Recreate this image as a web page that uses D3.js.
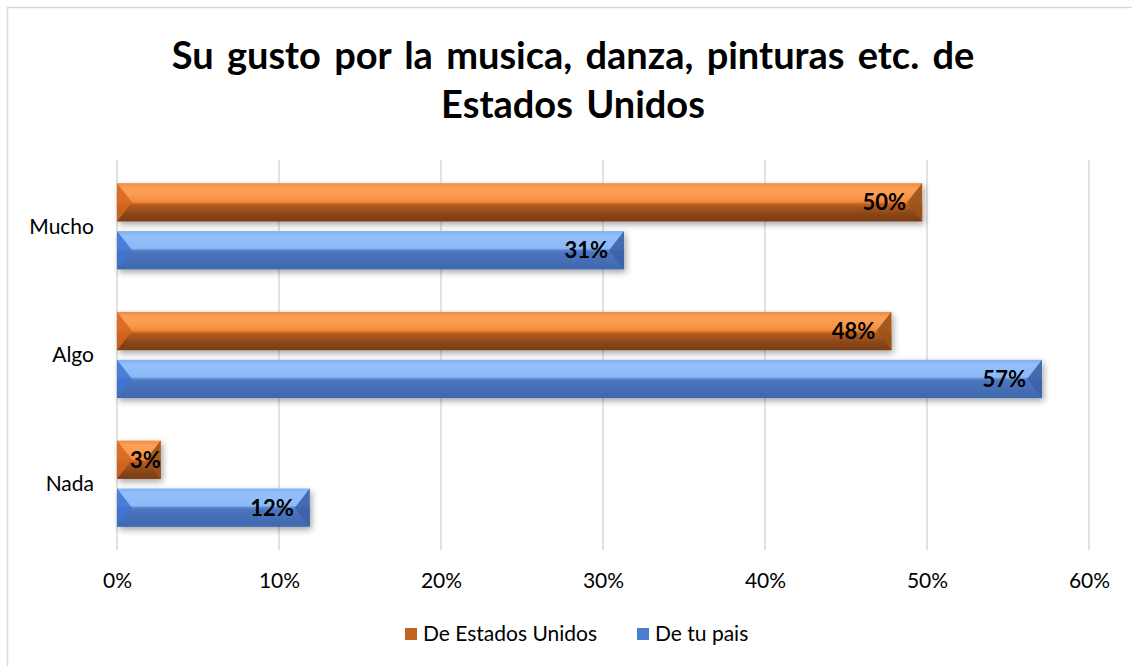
<!DOCTYPE html>
<html>
<head>
<meta charset="utf-8">
<script src="https://cdn.jsdelivr.net/npm/d3@7"></script>
<style>
  body { margin: 0; background: #fff; }
  svg text { font-family: Lato, "Open Sans", sans-serif; fill: #000; }
</style>
</head>
<body>
<div class="chart"></div>
<script>
// chart data
const categories = ["Mucho", "Algo", "Nada"]
const seriesNames = ["De Estados Unidos", "De tu pais"]
const estadosUnidos = [0.497, 0.478, 0.027]
const tuPais = [0.313, 0.571, 0.119]
const xTicks = [0, 0.1, 0.2, 0.3, 0.4, 0.5, 0.6]
const titleLines = ["Su gusto por la musica, danza, pinturas etc. de", "Estados Unidos"]

const width = 1132, height = 666
const plot = { left: 117, right: 1089, top: 160, bottom: 550 }
const bevel = 15

const svg = d3.select(".chart").append("svg")
    .attr("width", width)
    .attr("height", height)

const defs = svg.append("defs")

// gradient + colors for each series
const styles = [
    { id: "gOrange", stops: [[0, "#f08a40"], [0.12, "#fba05a"], [0.3, "#fb9b50"], [0.48, "#f48a3a"], [0.56, "#b85c1f"], [0.8, "#8a4618"], [1, "#7a3d14"]],
      left: "#d7661f", right: "#9b5219", key: "#c2621f" },
    { id: "gBlue", stops: [[0, "#7fb0f0"], [0.12, "#93c0fb"], [0.45, "#8cbaf7"], [0.5, "#5a86cf"], [0.56, "#4a74bd"], [1, "#3f68ae"]],
      left: "#3d74d3", right: "#3d62a8", key: "#4a7cd0" }
]

styles.forEach(s => {
    const g = defs.append("linearGradient")
        .attr("id", s.id)
        .attr("x1", "0%").attr("x2", "0%")
        .attr("y1", "0%").attr("y2", "100%")
    s.stops.forEach(st => g.append("stop").attr("offset", st[0]).style("stop-color", st[1]))
})

const shadow = defs.append("filter")
    .attr("id", "shadow")
    .attr("x", "-10%").attr("y", "-40%")
    .attr("width", "130%").attr("height", "200%")
shadow.append("feDropShadow")
    .attr("dx", 2).attr("dy", 3)
    .attr("stdDeviation", 3)
    .attr("flood-color", "#000")
    .attr("flood-opacity", 0.35)

// frame
svg.append("path")
    .attr("d", `M7.5,${height} V7.5 H${width}`)
    .attr("fill", "none")
    .attr("stroke", "#d9d9d9")
    .attr("stroke-width", 1.5)

// title
svg.append("text")
    .attr("x", 573)
    .attr("text-anchor", "middle")
    .style("font-weight", "bold")
    .style("font-size", "38px")
    .style("word-spacing", "4px")
    .selectAll("tspan")
    .data(titleLines)
    .enter().append("tspan")
    .attr("x", 573)
    .attr("y", (d, i) => 69 + i * 49)
    .text(d => d)

const x = d3.scaleLinear()
    .domain([0, 0.6])
    .range([plot.left, plot.right])

const y = d3.scaleBand()
    .domain(categories)
    .range([plot.top, plot.bottom])
    .paddingInner(0.33)
    .paddingOuter(0.18)

const y1 = d3.scaleBand()
    .domain(d3.range(seriesNames.length))
    .range([0, y.bandwidth()])
    .paddingInner(0.2)

// gridlines
svg.append("g")
    .selectAll("line")
    .data(xTicks)
    .enter().append("line")
    .attr("x1", d => x(d)).attr("x2", d => x(d))
    .attr("y1", plot.top).attr("y2", plot.bottom)
    .attr("stroke", "#d9d9d9")
    .attr("stroke-width", 1.5)

// x axis labels
const xAxis = svg.append("g")
    .attr("transform", `translate(0,${plot.bottom + 8})`)
    .call(d3.axisBottom(x).tickValues(xTicks).tickFormat(d3.format(".0%")).tickSize(0).tickPadding(15))
xAxis.select(".domain").remove()
xAxis.selectAll("text")
    .style("font-size", "21px")
    .style("font-family", "Lato, sans-serif")

// category labels
svg.append("g")
    .selectAll("text")
    .data(categories)
    .enter().append("text")
    .attr("x", 94)
    .attr("y", d => y(d) + y.bandwidth() / 2)
    .attr("dy", "0.35em")
    .attr("text-anchor", "end")
    .style("font-size", "21px")
    .text(d => d)

const rows = []
categories.forEach((c, i) => {
    rows.push({ cat: c, s: 0, v: estadosUnidos[i] })
    rows.push({ cat: c, s: 1, v: tuPais[i] })
})

const bars = svg.append("g")
    .selectAll("g")
    .data(rows)
    .enter().append("g")
    .attr("transform", d => `translate(0,${y(d.cat) + y1(d.s)})`)

const h = y1.bandwidth()

bars.append("rect")
    .attr("x", x(0))
    .attr("width", d => x(d.v) - x(0))
    .attr("height", h)
    .attr("fill", d => `url(#${styles[d.s].id})`)
    .attr("filter", "url(#shadow)")

bars.append("path")
    .attr("d", d => {
        const b = Math.min(bevel, (x(d.v) - x(0)) / 2)
        return `M${x(0)},0 L${x(0) + b},${h / 2} L${x(0)},${h} Z`
    })
    .attr("fill", d => styles[d.s].left)
    .attr("opacity", 0.85)

bars.append("path")
    .attr("d", d => {
        const b = Math.min(bevel, (x(d.v) - x(0)) / 2)
        const x1 = x(d.v)
        return `M${x1},0 L${x1 - b},${h / 2} L${x1},${h} Z`
    })
    .attr("fill", d => styles[d.s].right)
    .attr("opacity", 0.9)

bars.append("text")
    .attr("x", d => x(d.v) - (d.v < 0.05 ? 0 : 16))
    .attr("y", h / 2)
    .attr("dy", "0.36em")
    .attr("text-anchor", "end")
    .style("font-size", "22px")
    .style("font-weight", "bold")
    .text(d => Math.round(d.v * 100) + "%")

// legend
const legend = svg.append("g")
    .selectAll("g")
    .data(seriesNames)
    .enter().append("g")
    .attr("transform", (d, i) => `translate(${i === 0 ? 405 : 637},634)`)

legend.append("rect")
    .attr("x", 0).attr("y", -6)
    .attr("width", 12).attr("height", 12)
    .attr("fill", (d, i) => styles[i].key)

legend.append("text")
    .attr("x", 18)
    .attr("dy", "0.35em")
    .style("font-size", "21px")
    .text(d => d)
</script>
</body>
</html>
